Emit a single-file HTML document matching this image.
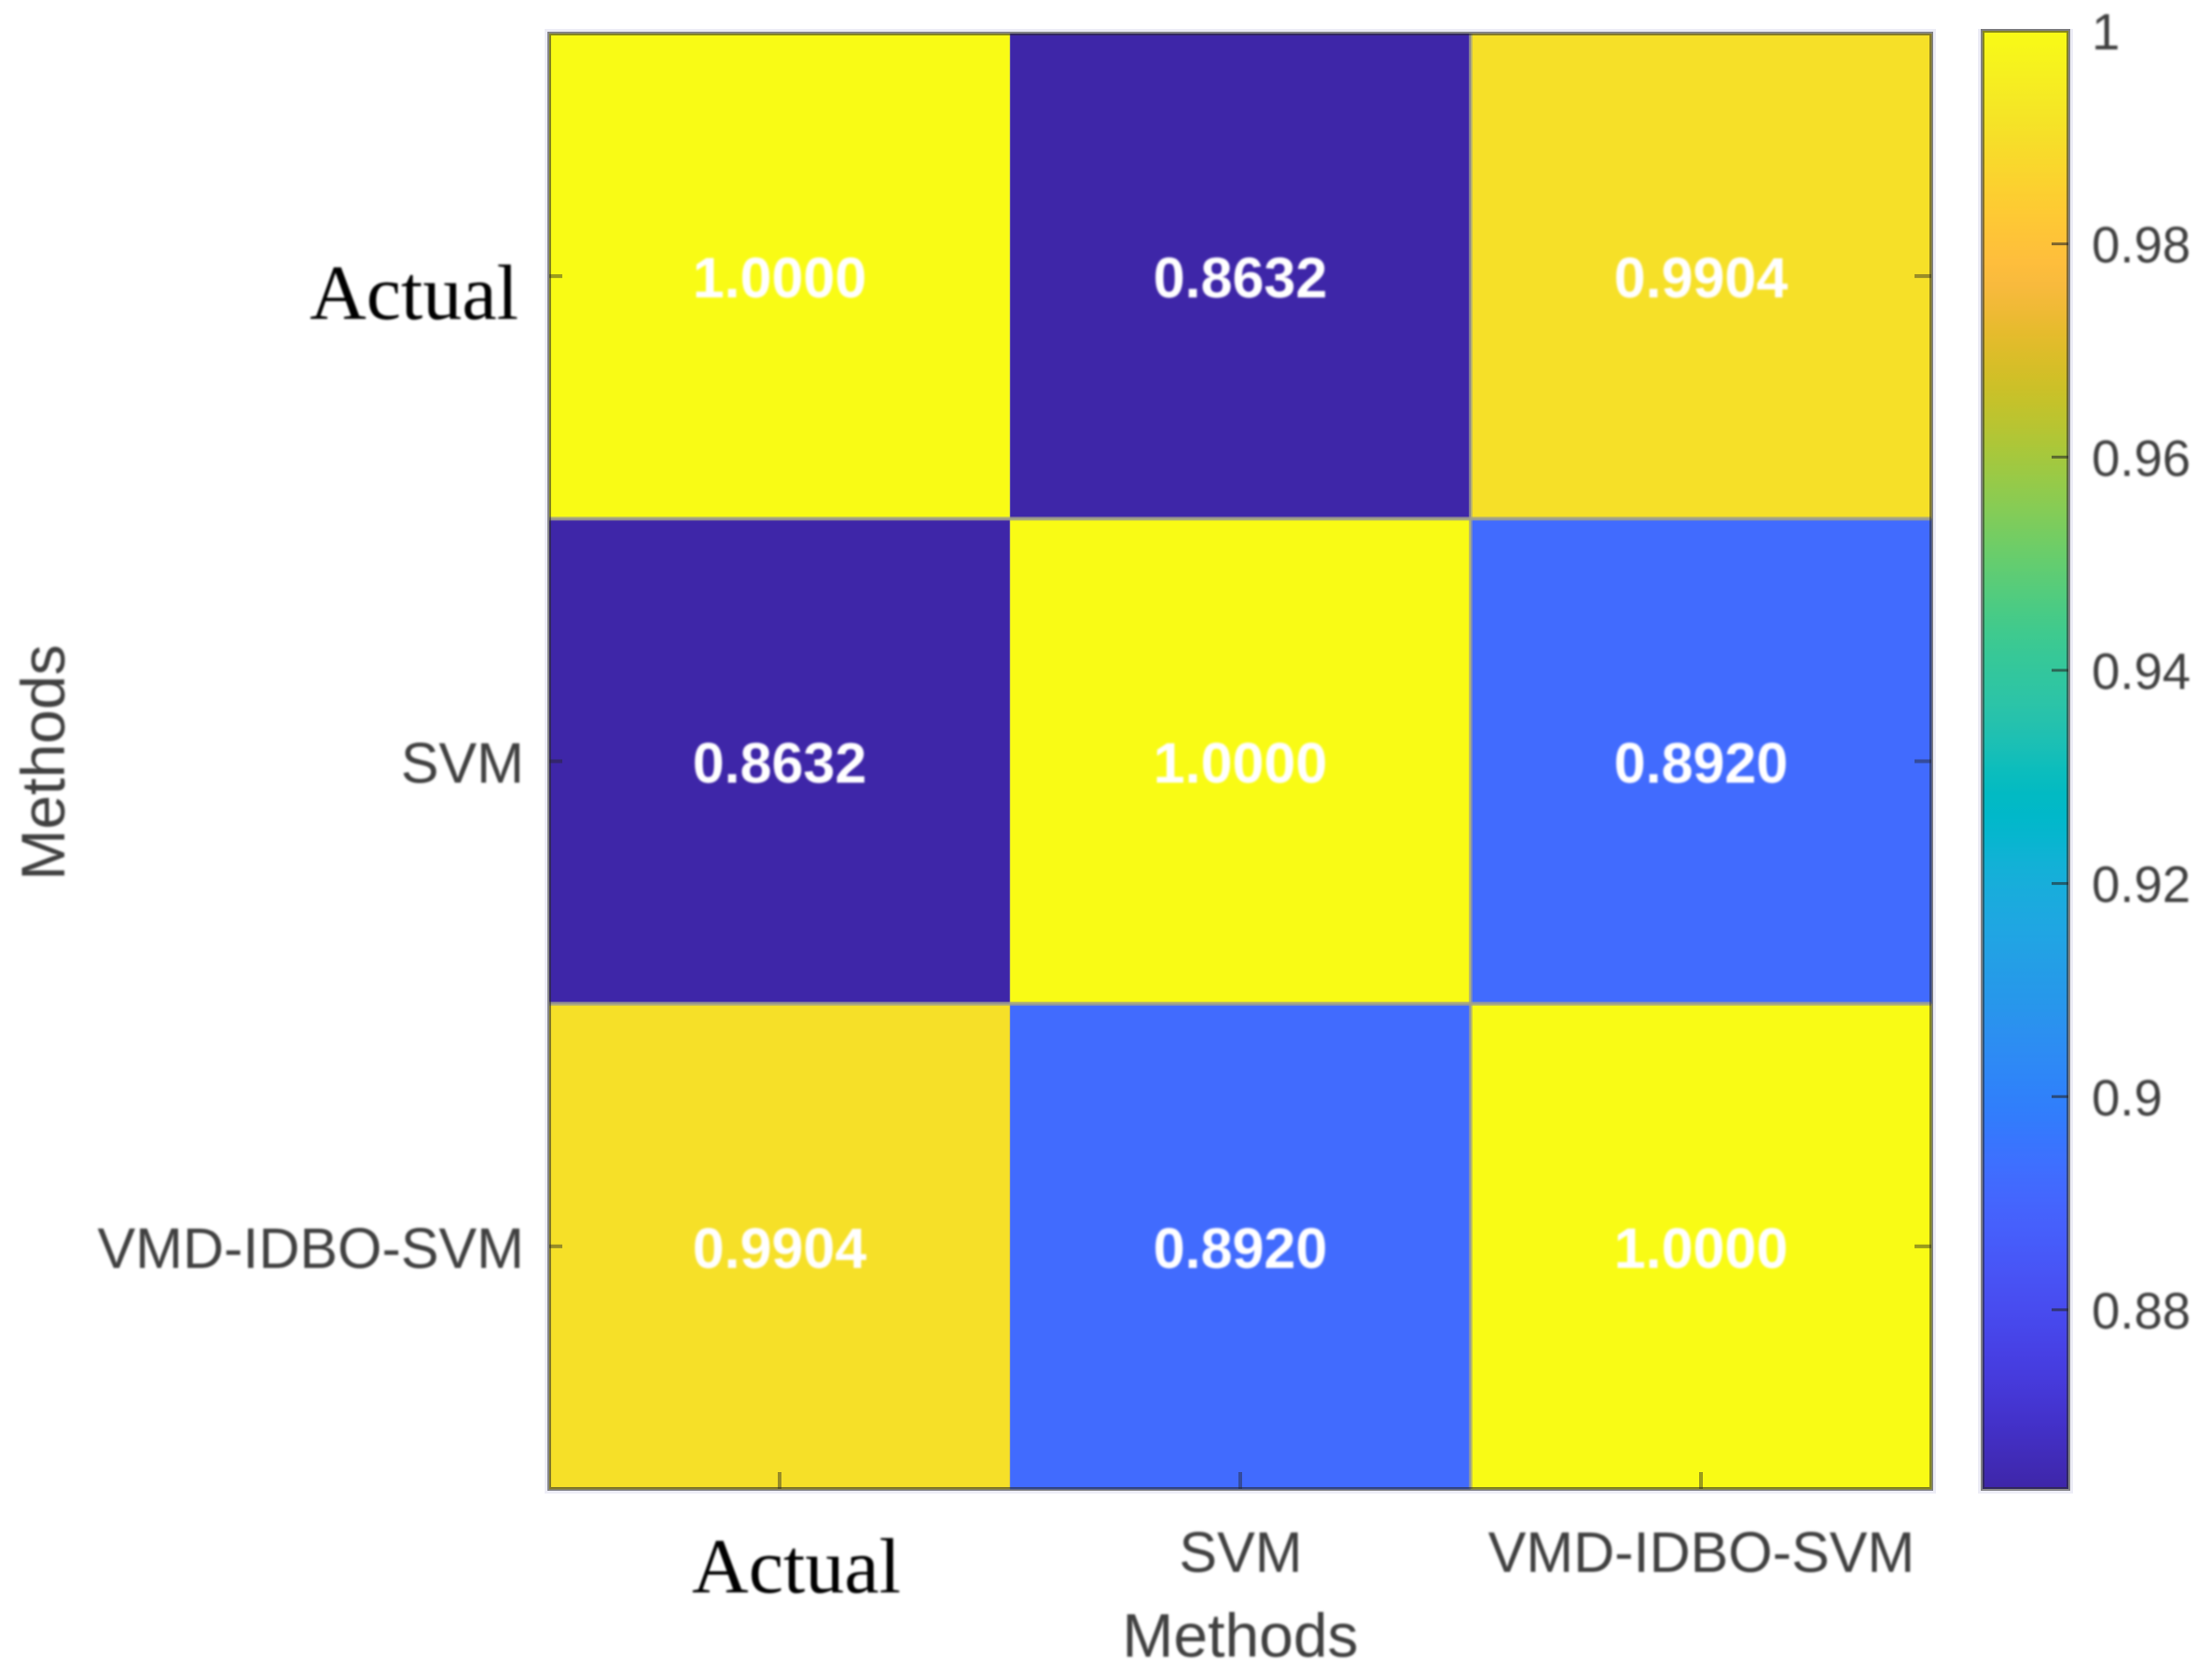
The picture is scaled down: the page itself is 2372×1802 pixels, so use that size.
<!DOCTYPE html>
<html lang="en">
<head>
<meta charset="utf-8">
<title>Methods correlation heatmap</title>
<style>
html,body{margin:0;padding:0;background:#fff;width:2372px;height:1802px;overflow:hidden}
svg{display:block}
</style>
</head>
<body>
<svg id="chart" xmlns="http://www.w3.org/2000/svg" width="2372" height="1802" viewBox="0 0 2372 1802">
<defs>
<linearGradient id="cbGrad" x1="0" y1="1" x2="0" y2="0"></linearGradient>
<filter id="soft" x="-5%" y="-5%" width="110%" height="110%"><feGaussianBlur stdDeviation="1.1"/></filter>
</defs>
<rect width="2372" height="1802" fill="#ffffff"/>
<g id="cells"></g>
<g id="grid"></g>
<g id="frame"></g>
<g id="cellText" filter="url(#soft)"></g>
<g id="labels" filter="url(#soft)"></g>
<g id="colorbar"></g>
</svg>
<script>
const categories = ["Actual", "SVM", "VMD-IDBO-SVM"];
const rowActual = [1.0000, 0.8632, 0.9904];
const rowSVM = [0.8632, 1.0000, 0.8920];
const rowVMD = [0.9904, 0.8920, 1.0000];
const colorbarTicks = [0.88, 0.9, 0.92, 0.94, 0.96, 0.98, 1];
const colorbarTickLabels = ["0.88", "0.9", "0.92", "0.94", "0.96", "0.98", "1"];
const axisTitle = "Methods";
const colorMin = 0.8632;
const colorMax = 1;

const rows = [rowActual, rowSVM, rowVMD];
const parula = [[.2422,.1504,.6603],[.2504,.165,.7076],[.2578,.1818,.7511],[.2647,.1978,.7952],[.2706,.2147,.8364],[.2751,.2342,.871],[.2783,.2559,.8991],[.2803,.2782,.9221],[.2813,.3006,.9414],[.281,.3228,.9579],[.2795,.3447,.9717],[.276,.3667,.9829],[.2699,.3892,.9906],[.2602,.4123,.9952],[.244,.4358,.9988],[.2206,.4603,.9973],[.1963,.4847,.9892],[.1834,.5074,.9798],[.1786,.5289,.9682],[.1764,.5499,.952],[.1687,.5703,.9359],[.154,.5902,.9218],[.146,.6091,.9079],[.138,.6276,.8973],[.1248,.6459,.8883],[.1113,.6635,.8763],[.0952,.6798,.8598],[.0689,.6948,.8394],[.0297,.7082,.8163],[.0036,.7203,.7917],[.0067,.7312,.766],[.0433,.7411,.7394],[.0964,.75,.712],[.1408,.7584,.6842],[.1717,.767,.6554],[.1938,.7758,.6251],[.2161,.7843,.5923],[.247,.7918,.5567],[.2906,.7973,.5188],[.3406,.8008,.4789],[.3909,.8029,.4354],[.4456,.8024,.3909],[.5044,.7993,.348],[.5616,.7942,.3045],[.6174,.7876,.2612],[.672,.7793,.2227],[.7242,.7698,.191],[.7738,.7598,.1646],[.8203,.7498,.1535],[.8634,.7406,.1596],[.9035,.733,.1774],[.9393,.7288,.21],[.9728,.7298,.2394],[.9956,.7434,.2371],[.997,.7659,.2199],[.9952,.7893,.2028],[.9892,.8136,.1885],[.9786,.8386,.1766],[.9676,.8639,.1643],[.961,.889,.1537],[.9597,.9135,.1423],[.9628,.9373,.1265],[.9691,.9606,.1064],[.9769,.9839,.0805]];

const NS = "http://www.w3.org/2000/svg";
const plot = {left: 589, right: 2071, top: 36, bottom: 1597};
const bar = {left: 2126, right: 2218, top: 33, bottom: 1597};
const SANS = '"Liberation Sans",Arial,sans-serif';
const SERIF = '"Liberation Serif","Times New Roman",serif';
const GREY = "#404040";

function make(parent, tag, attrs, text) {
  const el = document.createElementNS(NS, tag);
  for (const k in attrs) el.setAttribute(k, attrs[k]);
  if (text !== undefined) el.textContent = text;
  parent.appendChild(el);
  return el;
}
function xBand(i) { return plot.left + i * (plot.right - plot.left) / categories.length; }
function yBand(i) { return plot.top + i * (plot.bottom - plot.top) / categories.length; }
function xCenter(i) { return (xBand(i) + xBand(i + 1)) / 2; }
function yCenter(i) { return (yBand(i) + yBand(i + 1)) / 2; }
function barY(v) { return bar.bottom - (v - colorMin) / (colorMax - colorMin) * (bar.bottom - bar.top); }
function colorAt(t) {
  t = Math.max(0, Math.min(1, t));
  const p = t * (parula.length - 1), a = Math.floor(p), b = Math.min(a + 1, parula.length - 1), f = p - a;
  const c = [0, 1, 2].map(k => Math.round(255 * (parula[a][k] + (parula[b][k] - parula[a][k]) * f)));
  return "rgb(" + c.join(",") + ")";
}
function colorOf(v) { return colorAt((v - colorMin) / (colorMax - colorMin)); }

const cellsG = document.getElementById("cells");
const gridG = document.getElementById("grid");
const frameG = document.getElementById("frame");
const textG = document.getElementById("cellText");
const labelsG = document.getElementById("labels");
const barG = document.getElementById("colorbar");

// heatmap cells and printed values
rows.forEach(function (row, r) {
  row.forEach(function (v, c) {
    const cell = make(cellsG, "rect", {x: xBand(c), y: yBand(r), width: xBand(c + 1) - xBand(c) + 0.5, height: yBand(r + 1) - yBand(r) + 0.5, fill: colorOf(v)});
    
    
    const t = make(textG, "text", {x: xCenter(c), y: yCenter(r) + 23, "text-anchor": "middle", "font-family": SANS, "font-weight": "bold", "font-size": 61, fill: "#ffffff"}, v.toFixed(4));
    
    
  });
});

// cell separators
for (let i = 1; i < categories.length; i++) {
  const h = make(gridG, "line", {x1: plot.left, x2: plot.right, y1: yBand(i), y2: yBand(i), stroke: "#a0a08c", "stroke-opacity": 0.85, "stroke-width": 4});
  
  
  const v = make(gridG, "line", {x1: xBand(i), x2: xBand(i), y1: plot.top, y2: plot.bottom, stroke: "#a0a08c", "stroke-opacity": i === 1 ? 0.3 : 0.7, "stroke-width": i === 1 ? 2 : 4});
  
  
}

// axes frame
const halo = make(frameG, "rect", {x: plot.left - 3, y: plot.top - 3, width: plot.right - plot.left + 6, height: plot.bottom - plot.top + 6, fill: "none", stroke: "#d8d8ec", "stroke-opacity": 0.45, "stroke-width": 4});


const box = make(frameG, "rect", {x: plot.left, y: plot.top, width: plot.right - plot.left, height: plot.bottom - plot.top, fill: "none", stroke: "#262626", "stroke-opacity": 0.55, "stroke-width": 4});



// ticks and category labels
categories.forEach(function (name, i) {
  const isSerif = name === "Actual";
  const xTick = make(frameG, "line", {x1: xCenter(i), x2: xCenter(i), y1: plot.bottom, y2: plot.bottom - 18, stroke: "#262626", "stroke-opacity": 0.45, "stroke-width": 4});
  
  
  const lTick = make(frameG, "line", {x1: plot.left, x2: plot.left + 14, y1: yCenter(i), y2: yCenter(i), stroke: "#262626", "stroke-opacity": 0.45, "stroke-width": 4});
  
  
  const rTick = make(frameG, "line", {x1: plot.right, x2: plot.right - 18, y1: yCenter(i), y2: yCenter(i), stroke: "#262626", "stroke-opacity": 0.45, "stroke-width": 4});
  
  

  const xl = make(labelsG, "text", {
    x: xCenter(i) + (isSerif ? 18 : 0.5),
    y: isSerif ? 1708 : 1686,
    "text-anchor": "middle",
    "font-family": isSerif ? SERIF : SANS,
    "font-size": isSerif ? 84 : 61,
    fill: isSerif ? "#000000" : GREY
  }, name);
  
  

  const yl = make(labelsG, "text", {
    x: isSerif ? 556 : 562,
    y: yCenter(i) + (isSerif ? 46 : 23),
    "text-anchor": "end",
    "font-family": isSerif ? SERIF : SANS,
    "font-size": isSerif ? 84 : 61,
    fill: isSerif ? "#000000" : GREY
  }, name);
  
  
});

// axis titles
const xTitle = make(labelsG, "text", {x: 1330, y: 1777, "text-anchor": "middle", "font-family": SANS, "font-size": 66, fill: GREY}, axisTitle);


const yTitle = make(labelsG, "text", {x: 0, y: 0, transform: "translate(69 818) rotate(-90)", "text-anchor": "middle", "font-family": SANS, "font-size": 66, fill: GREY}, axisTitle);



// colorbar
const grad = document.getElementById("cbGrad");
parula.forEach(function (c, i) {
  make(grad, "stop", {offset: i / (parula.length - 1), "stop-color": colorAt(i / (parula.length - 1))});
});
const barHalo = make(barG, "rect", {x: bar.left - 3, y: bar.top, width: bar.right - bar.left + 6, height: bar.bottom - bar.top + 3, fill: "none", stroke: "#d8d8ec", "stroke-opacity": 0.45, "stroke-width": 4});


const barRect = make(barG, "rect", {x: bar.left, y: bar.top, width: bar.right - bar.left, height: bar.bottom - bar.top, fill: "url(#cbGrad)", stroke: "#262626", "stroke-opacity": 0.55, "stroke-width": 4});


const barText = make(barG, "g", {filter: "url(#soft)"});


colorbarTicks.forEach(function (v, i) {
  const y = barY(v);
  if (v < colorMax) {
    const t = make(barG, "line", {x1: bar.right, x2: bar.right - 18, y1: y, y2: y, stroke: "#262626", "stroke-opacity": 0.6, "stroke-width": 3});
    
    
  }
  const l = make(barText, "text", {x: 2243, y: y + 20, "font-family": SANS, "font-size": 54.5, fill: GREY}, colorbarTickLabels[i]);
  
  
});
</script>
</body>
</html>
